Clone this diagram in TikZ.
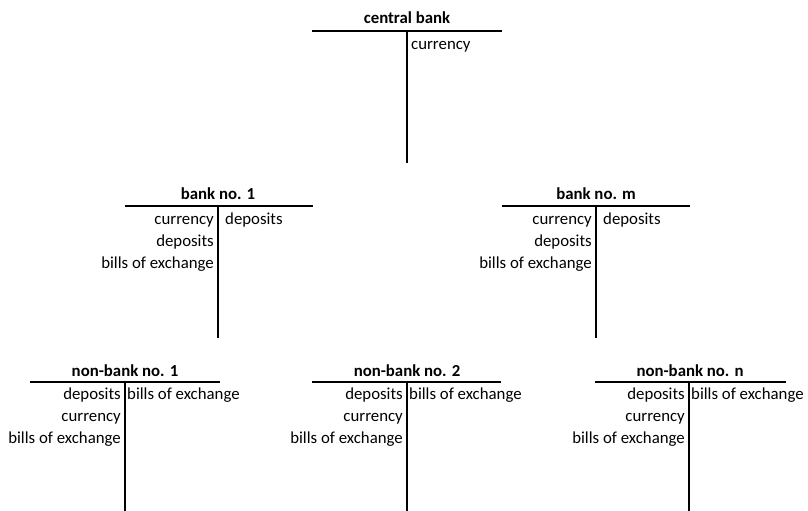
\documentclass[tikz,border=0pt]{standalone}
\usepackage{fontspec}
\setmainfont{Carlito}
\begin{document}
\begin{tikzpicture}[x=1pt,y=-1pt,
  ttitle/.style={font=\fontsize{16.8}{20}\selectfont\bfseries, anchor=base, inner sep=0pt},
  litem/.style={font=\fontsize{16.8}{20}\selectfont, anchor=base east, inner sep=0pt},
  ritem/.style={font=\fontsize{16.8}{20}\selectfont, anchor=base west, inner sep=0pt},
  tline/.style={line width=2.2pt}]
\useasboundingbox (0,0) rectangle (808,511);
% central bank
\coordinate (cbL) at (312,31); \coordinate (cbR) at (502,31);
\coordinate (cbT) at (407,31); \coordinate (cbB) at (407,163);
\draw[tline] (cbL) -- (cbR); \draw[tline] (cbT) -- (cbB);
\node[ttitle] (cbt) at (407,24) {central bank};
\node[ritem] (cbr1) at (411,49) {currency};
% bank no. 1
\coordinate (b1L) at (125,206); \coordinate (b1R) at (313,206);
\coordinate (b1T) at (218,206); \coordinate (b1B) at (218,338);
\draw[tline] (b1L) -- (b1R); \draw[tline] (b1T) -- (b1B);
\node[ttitle] (b1t) at (218,199) {bank no. 1};
\node[litem] (b1l1) at (214,224) {currency};
\node[litem] (b1l2) at (214,246) {deposits};
\node[litem] (b1l3) at (214,268) {bills of exchange};
\node[ritem] (b1r1) at (225,224) {deposits};
% bank no. m
\coordinate (bmL) at (502,206); \coordinate (bmR) at (690,206);
\coordinate (bmT) at (596,206); \coordinate (bmB) at (596,338);
\draw[tline] (bmL) -- (bmR); \draw[tline] (bmT) -- (bmB);
\node[ttitle] (bmt) at (596,199) {bank no. m};
\node[litem] (bml1) at (592,224) {currency};
\node[litem] (bml2) at (592,246) {deposits};
\node[litem] (bml3) at (592,268) {bills of exchange};
\node[ritem] (bmr1) at (603,224) {deposits};
% non-bank no. 1
\coordinate (n1L) at (30,382); \coordinate (n1R) at (220,382);
\coordinate (n1T) at (125,382); \coordinate (n1B) at (125,511);
\draw[tline] (n1L) -- (n1R); \draw[tline] (n1T) -- (n1B);
\node[ttitle] (n1t) at (125,376) {non-bank no. 1};
\node[litem] (n1l1) at (121,399) {deposits};
\node[litem] (n1l2) at (121,421) {currency};
\node[litem] (n1l3) at (121,443) {bills of exchange};
\node[ritem] (n1r1) at (127,399) {bills of exchange};
% non-bank no. 2
\coordinate (n2L) at (312,382); \coordinate (n2R) at (501,382);
\coordinate (n2T) at (407,382); \coordinate (n2B) at (407,511);
\draw[tline] (n2L) -- (n2R); \draw[tline] (n2T) -- (n2B);
\node[ttitle] (n2t) at (407,376) {non-bank no. 2};
\node[litem] (n2l1) at (403,399) {deposits};
\node[litem] (n2l2) at (403,421) {currency};
\node[litem] (n2l3) at (403,443) {bills of exchange};
\node[ritem] (n2r1) at (409,399) {bills of exchange};
% non-bank no. n
\coordinate (nnL) at (595,382); \coordinate (nnR) at (786,382);
\coordinate (nnT) at (689,382); \coordinate (nnB) at (689,511);
\draw[tline] (nnL) -- (nnR); \draw[tline] (nnT) -- (nnB);
\node[ttitle] (nnt) at (690,376) {non-bank no. n};
\node[litem] (nnl1) at (685,399) {deposits};
\node[litem] (nnl2) at (685,421) {currency};
\node[litem] (nnl3) at (685,443) {bills of exchange};
\node[ritem] (nnr1) at (691,399) {bills of exchange};
\end{tikzpicture}
\end{document}
